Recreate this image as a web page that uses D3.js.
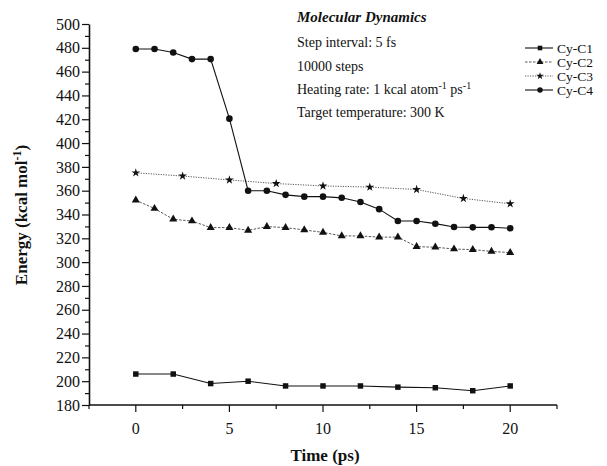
<!DOCTYPE html>
<html>
<head>
<meta charset="utf-8">
<script src="https://cdn.jsdelivr.net/npm/d3@7"></script>
<style>
  body { margin: 0; background: #fff; }
  text { font-family: "Liberation Serif", "DejaVu Serif", serif; fill: #111; }
</style>
</head>
<body>
<svg width="607" height="466"></svg>
<script>
// time points (ps)
var tEven = [0, 2, 4, 6, 8, 10, 12, 14, 16, 18, 20];
var tAll = [0, 1, 2, 3, 4, 5, 6, 7, 8, 9, 10, 11, 12, 13, 14, 15, 16, 17, 18, 19, 20];
var tHalf = [0, 2.5, 5, 7.5, 10, 12.5, 15, 17.5, 20];

// energies (kcal/mol)
var c1 = [206, 206, 198, 200, 196, 196, 196, 195, 194.5, 192, 196];
var c2 = [352, 345, 336, 334.5, 329, 329, 326.7, 329.8, 329, 327, 325, 322, 322, 321, 321, 313, 312.5, 311, 310.5, 309, 308];
var c3 = [375, 372.3, 369, 366, 364, 363, 361, 353.5, 349];
var c4 = [479, 479, 476, 470.5, 470.5, 420.5, 360, 360, 356.5, 355, 355, 354, 350.5, 344.5, 334.5, 334.5, 332.3, 329.5, 329.2, 329.3, 328.5];

var names = ["Cy-C1", "Cy-C2", "Cy-C3", "Cy-C4"];
var xTicks = [0, 5, 10, 15, 20];
var xMinor = [-2.5, 2.5, 7.5, 12.5, 17.5, 22.5];

var series = [
  { name: names[0], t: tEven, v: c1, sym: d3.symbolSquare, size: 30, stroke: "#111", dash: null, w: 1.1 },
  { name: names[1], t: tAll, v: c2, sym: d3.symbolTriangle, size: 28, stroke: "#444", dash: "2.5,1.5", w: 0.9 },
  { name: names[2], t: tHalf, v: c3, sym: d3.symbolStar, size: 24, stroke: "#444", dash: "1.2,1.3", w: 0.9 },
  { name: names[3], t: tAll, v: c4, sym: d3.symbolCircle, size: 34, stroke: "#111", dash: null, w: 1.1 }
];

var svg = d3.select("svg");

var x = d3.scaleLinear().domain([-2.5, 22.5]).range([89, 557]);
var y = d3.scaleLinear().domain([180, 500]).range([405, 24]);

// x axis
var xAxis = svg.append("g").attr("transform", "translate(0," + y(180) + ")");
xAxis.append("line")
  .attr("x1", x(-2.5)).attr("x2", x(22.5))
  .attr("stroke", "#111").attr("stroke-width", 1.6);
xAxis.selectAll(".maj").data(xTicks).enter().append("line")
  .attr("x1", function(d){ return x(d); }).attr("x2", function(d){ return x(d); })
  .attr("y1", 0).attr("y2", 7)
  .attr("stroke", "#111").attr("stroke-width", 1.2);
xAxis.selectAll(".min").data(xMinor).enter().append("line")
  .attr("x1", function(d){ return x(d); }).attr("x2", function(d){ return x(d); })
  .attr("y1", 0).attr("y2", 4)
  .attr("stroke", "#111").attr("stroke-width", 1.2);
xAxis.selectAll(".lab").data(xTicks).enter().append("text")
  .attr("x", function(d){ return x(d); }).attr("y", 29)
  .attr("text-anchor", "middle").attr("font-size", 16)
  .text(function(d){ return d; });

// y axis
var yAxis = d3.axisLeft(y).tickValues(d3.range(180, 501, 20)).tickSize(7).tickSizeOuter(0);
var gy = svg.append("g").attr("transform", "translate(" + x(-2.5) + ",0)").call(yAxis);
gy.select(".domain").attr("stroke", "#111").attr("stroke-width", 1.6);
gy.selectAll(".tick line").attr("stroke", "#111").attr("stroke-width", 1.2);
gy.selectAll(".tick text").attr("font-family", "Liberation Serif").attr("font-size", 16).attr("fill", "#111").attr("x", -9);
var yMinor = d3.axisLeft(y).tickValues(d3.range(190, 500, 20)).tickSize(4).tickFormat("");
var gym = svg.append("g").attr("transform", "translate(" + x(-2.5) + ",0)").call(yMinor);
gym.select(".domain").remove();
gym.selectAll(".tick line").attr("stroke", "#111").attr("stroke-width", 1.2);

// axis titles
svg.append("text")
  .attr("x", 325).attr("y", 461)
  .attr("text-anchor", "middle").attr("font-size", 17).attr("font-weight", "bold")
  .text("Time (ps)");
var yt = svg.append("text")
  .attr("transform", "translate(27,215) rotate(-90)")
  .attr("text-anchor", "middle").attr("font-size", 17).attr("font-weight", "bold");
yt.append("tspan").text("Energy (kcal mol");
yt.append("tspan").attr("dy", -6).attr("font-size", 12).text("-1");
yt.append("tspan").attr("dy", 6).text(")");

// series
var line = d3.line();
series.forEach(function(s) {
  var pts = s.t.map(function(t, i){ return [x(t), y(s.v[i])]; });
  svg.append("path")
    .attr("d", line(pts))
    .attr("fill", "none")
    .attr("stroke", s.stroke)
    .attr("stroke-width", s.w)
    .attr("stroke-dasharray", s.dash);
  svg.selectAll(null).data(pts).enter().append("path")
    .attr("transform", function(d){ return "translate(" + d[0] + "," + d[1] + ")"; })
    .attr("d", d3.symbol().type(s.sym).size(s.size))
    .attr("fill", "#111");
});

// legend
var leg = svg.append("g");
series.forEach(function(s, i) {
  var ly = 48 + i * 14;
  leg.append("line")
    .attr("x1", 525).attr("x2", 553).attr("y1", ly).attr("y2", ly)
    .attr("stroke", s.stroke).attr("stroke-width", s.w)
    .attr("stroke-dasharray", s.dash);
  leg.append("path")
    .attr("transform", "translate(540," + ly + ")")
    .attr("d", d3.symbol().type(s.sym).size(s.size * 0.7))
    .attr("fill", "#111");
  leg.append("text")
    .attr("x", 557).attr("y", ly + 4.5)
    .attr("font-size", 13.5)
    .text(s.name);
});

// annotation block
var notes = svg.append("g").attr("font-size", 14);
notes.append("text").attr("x", 297).attr("y", 22)
  .attr("font-weight", "bold").attr("font-style", "italic").attr("font-size", 15)
  .text("Molecular Dynamics");
notes.append("text").attr("x", 297).attr("y", 47).text("Step interval: 5 fs");
notes.append("text").attr("x", 297).attr("y", 71).text("10000 steps");
var hr = notes.append("text").attr("x", 297).attr("y", 94);
hr.append("tspan").text("Heating rate: 1 kcal atom");
hr.append("tspan").attr("dy", -5).attr("font-size", 10).text("-1");
hr.append("tspan").attr("dy", 5).text(" ps");
hr.append("tspan").attr("dy", -5).attr("font-size", 10).text("-1");
notes.append("text").attr("x", 297).attr("y", 117).text("Target temperature: 300 K");
</script>
</body>
</html>
